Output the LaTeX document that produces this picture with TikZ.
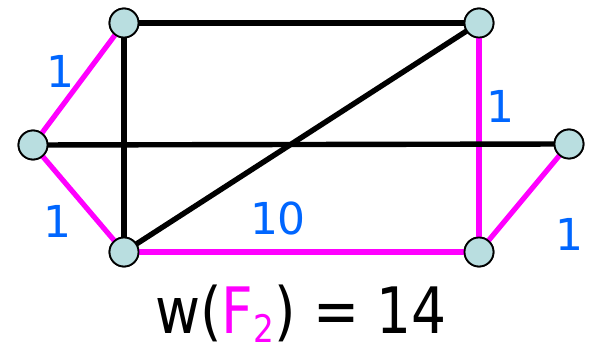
\documentclass[tikz,border=0pt]{standalone}
\usepackage{fontspec}
\setmainfont{DejaVu Sans}
\definecolor{edgemag}{RGB}{255,0,255}
\definecolor{lblblue}{RGB}{0,102,255}
\definecolor{vfill}{RGB}{185,222,224}
\begin{document}
\begin{tikzpicture}[x=1pt,y=-1pt,
  vtx/.style={circle,draw=black,line width=1.8pt,fill=vfill,minimum size=29pt,inner sep=0pt},
  blk/.style={draw=black,line width=5.4pt},
  mag/.style={draw=edgemag,line width=5.2pt},
  wlbl/.style={text=lblblue,font=\fontsize{44}{44}\selectfont,inner sep=0pt}]
\useasboundingbox (0,0) rectangle (590,347);
\node[vtx] (A) at (124,23) {};
\node[vtx] (B) at (479,23) {};
\node[vtx] (C) at (33,145) {};
\node[vtx] (D) at (569,144) {};
\node[vtx] (E) at (124,252) {};
\node[vtx] (F) at (479,252) {};
\path[mag] (A.center) -- (C.center);
\path[mag] (C.center) -- (E.center);
\path[mag] (E.center) -- (F.center);
\path[mag] (B.center) -- (F.center);
\path[mag] (F.center) -- (D.center);
\path[blk] (A.center) -- (B.center);
\path[blk] (A.center) -- (E.center);
\path[blk] (C.center) -- (D.center);
\path[blk] (E.center) -- (B.center);
\node[vtx] at (A) {};
\node[vtx] at (B) {};
\node[vtx] at (C) {};
\node[vtx] at (D) {};
\node[vtx] at (E) {};
\node[vtx] at (F) {};
\node[wlbl] (l1) at (60,71) {1};
\node[wlbl] (l2) at (57,221) {1};
\node[wlbl] (l3) at (278,218) {10};
\node[wlbl] (l4) at (500,106) {1};
\node[wlbl] (l5) at (569,234) {1};
\node[font=\fontsize{64}{64}\selectfont,inner sep=0pt,anchor=base] (w) at (301,334)
  {\scalebox{0.86}[1]{w(\textcolor{edgemag}{F\raisebox{-9pt}{\fontsize{38}{38}\selectfont 2}}) = 14}};
\end{tikzpicture}
\end{document}
